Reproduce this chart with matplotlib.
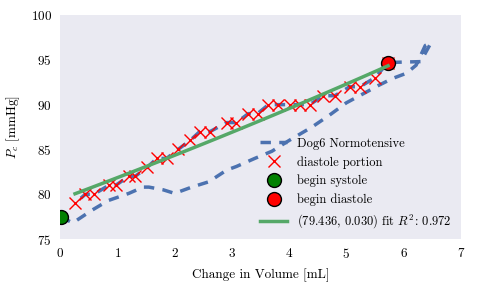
import numpy as np
import matplotlib
matplotlib.use("Agg")
import matplotlib.pyplot as plt

plt.rcParams['font.family'] = 'serif'
plt.rcParams['font.serif'] = ['cmr10', 'DejaVu Serif']
plt.rcParams['mathtext.fontset'] = 'cm'
plt.rcParams['axes.formatter.use_mathtext'] = True
plt.rcParams['font.size'] = 9.5

# full pressure-volume loop (systole branch, then back along diastole)
loop_vol = [0.01, 0.22, 0.55, 0.84, 1.2, 1.45, 1.55, 1.8, 2.0, 2.3, 2.6, 2.91, 3.08, 3.4,
            3.7, 4.0, 4.4, 4.7, 5.0, 5.35, 5.55, 5.8, 6.05, 6.22, 6.38, 6.48, 6.3, 5.73]
loop_pres = [77.5, 76.8, 78.2, 79.3, 80.1, 80.8, 80.8, 80.5, 80.1, 80.8, 81.4, 82.7, 83.1, 84.0,
             84.8, 86.0, 87.5, 88.8, 90.2, 91.4, 92.1, 92.9, 93.5, 94.4, 96.6, 96.9, 94.8, 94.7]

# diastole portion (ascending volume)
dia_vol = [0.26, 0.44, 0.59, 0.85, 0.97, 1.20, 1.31, 1.52, 1.69, 1.86, 2.06, 2.27, 2.44, 2.62,
           2.91, 3.08, 3.29, 3.45, 3.64, 3.81, 4.01, 4.19, 4.36, 4.60, 4.80, 5.06, 5.24, 5.50, 5.73]
dia_pres = [79.0, 80.0, 80.0, 81.0, 81.0, 82.0, 82.0, 83.0, 84.0, 84.0, 85.0, 86.0, 87.0, 87.0,
            88.0, 88.0, 89.0, 89.0, 90.0, 90.0, 90.0, 90.0, 90.0, 91.0, 91.0, 92.0, 92.0, 93.0, 94.7]

begin_systole = (0.01, 77.5)
begin_diastole = (5.73, 94.7)

fit_a, fit_b, fit_r2 = 79.436, 0.030, 0.972

# append diastole (descending) to the loop
full_vol = loop_vol + dia_vol[::-1][1:]
full_pres = loop_pres + dia_pres[::-1][1:]

fig = plt.figure(figsize=(4.85, 3.0), dpi=100)
ax = fig.add_axes([0.124, 0.203, 0.826, 0.747])
ax.set_facecolor('#EAEAF2')
for s in ax.spines.values():
    s.set_visible(False)
ax.tick_params(length=0, pad=6)

ax.plot(full_vol, full_pres, color='#4C72B0', lw=2.5, linestyle=(0, (3, 2.4)),
        label='Dog6 Normotensive')
ax.plot(dia_vol, dia_pres, 'x', color='red', ms=9, mew=1.0, label='diastole portion')
ax.plot(*begin_systole, 'o', color='green', mec='black', ms=10, label='begin systole')
ax.plot(*begin_diastole, 'o', color='red', mec='black', ms=10, label='begin diastole')
v = np.linspace(dia_vol[0], dia_vol[-1], 50)
ax.plot(v, fit_a * np.exp(fit_b * v), color='#55A868', lw=2.5,
        label='(%.3f, %.3f) fit $R^2$: %.3f' % (fit_a, fit_b, fit_r2))

ax.set_xlim(0, 7)
ax.set_ylim(75, 100)
ax.set_xlabel('Change in Volume [mL]', labelpad=5)
ax.set_ylabel('$P_c$ [mmHg]', labelpad=6)
ax.legend(loc='lower right', frameon=False, numpoints=1, handlelength=2.2,
          handletextpad=0.8, borderaxespad=0.3, labelspacing=0.5, fontsize=9)

fig.savefig('out.png', dpi=100)
